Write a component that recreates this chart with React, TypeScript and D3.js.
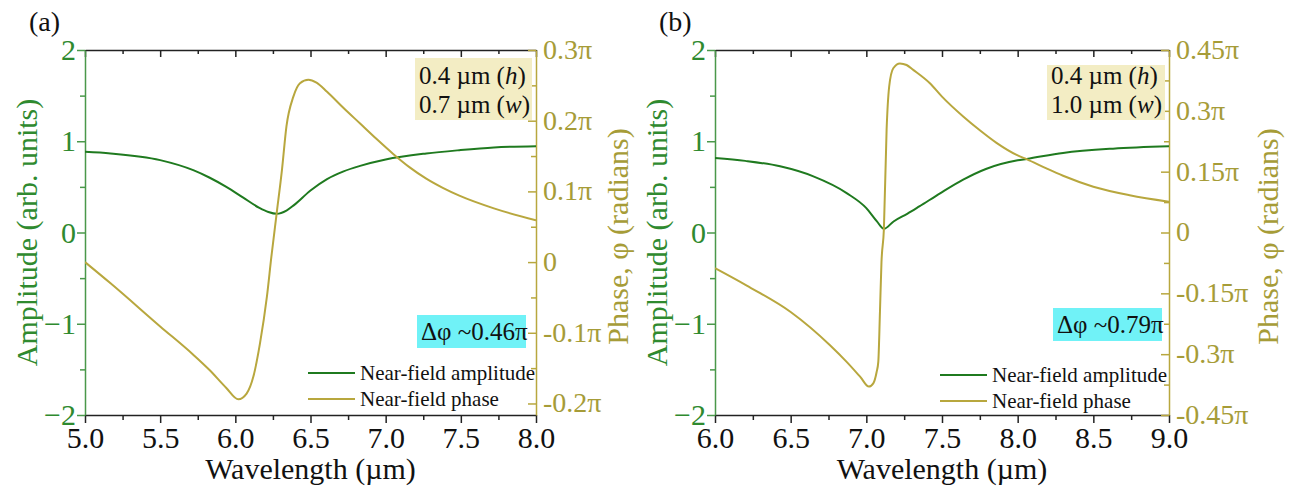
import React, { useEffect, useRef } from 'react'
import * as d3 from 'd3'

// panel (a): 0.4 µm (h), 0.7 µm (w)
const ampWlA = [5.0, 5.17, 5.5, 5.72, 5.83, 5.94, 6.05, 6.16, 6.22, 6.275, 6.34, 6.39, 6.5, 6.61, 6.72, 6.83, 7.0, 7.27, 7.49, 7.72, 8.0]
const ampA = [0.884, 0.866, 0.793, 0.683, 0.6, 0.5, 0.385, 0.27, 0.225, 0.205, 0.24, 0.3, 0.46, 0.585, 0.67, 0.73, 0.8, 0.866, 0.902, 0.932, 0.946]
const phaseWlA = [5.0, 5.17, 5.5, 5.72, 5.83, 5.94, 6.02, 6.075, 6.12, 6.164, 6.21, 6.24, 6.275, 6.31, 6.34, 6.386, 6.43, 6.486, 6.54, 6.61, 6.72, 6.83, 6.94, 7.05, 7.16, 7.27, 7.38, 7.49, 7.72, 8.0]
// phase in units of pi
const phaseA = [0.0, -0.03, -0.091, -0.131, -0.153, -0.178, -0.194, -0.186, -0.162, -0.115, -0.049, 0.008, 0.069, 0.13, 0.192, 0.234, 0.253, 0.258, 0.254, 0.241, 0.218, 0.196, 0.174, 0.153, 0.134, 0.118, 0.105, 0.094, 0.076, 0.059]

// panel (b): 0.4 µm (h), 1.0 µm (w)
const ampWlB = [6.0, 6.2, 6.43, 6.65, 6.87, 7.0, 7.07, 7.116, 7.18, 7.27, 7.35, 7.49, 7.64, 7.79, 8.0, 8.06, 8.3, 8.63, 9.0]
const ampB = [0.817, 0.785, 0.725, 0.615, 0.432, 0.267, 0.121, 0.04, 0.121, 0.205, 0.286, 0.432, 0.579, 0.696, 0.791, 0.806, 0.872, 0.919, 0.945]
const phaseWlB = [6.0, 6.21, 6.5, 6.76, 6.87, 6.96, 7.017, 7.046, 7.068, 7.079, 7.09, 7.1, 7.116, 7.134, 7.151, 7.178, 7.222, 7.266, 7.31, 7.42, 7.5, 7.64, 7.75, 7.86, 8.0, 8.058, 8.19, 8.3, 8.5, 8.74, 9.0]
const phaseB = [-0.088, -0.131, -0.196, -0.278, -0.319, -0.356, -0.38, -0.372, -0.344, -0.319, -0.196, -0.074, 0.008, 0.254, 0.36, 0.405, 0.417, 0.413, 0.401, 0.368, 0.335, 0.286, 0.252, 0.221, 0.19, 0.181, 0.158, 0.14, 0.113, 0.092, 0.076]

const ampTicks = [-2, -1, 0, 1, 2]
const wlTicksA = [5.0, 5.5, 6.0, 6.5, 7.0, 7.5, 8.0]
const wlTicksB = [6.0, 6.5, 7.0, 7.5, 8.0, 8.5, 9.0]
const phaseTicksA = [-0.2, -0.1, 0, 0.1, 0.2, 0.3]
const phaseTicksB = [-0.45, -0.3, -0.15, 0, 0.15, 0.3, 0.45]

const GREEN = '#1f7a1f'
const GREEN_TXT = '#2f8a2f'
const OLIVE = '#b8a73e'
const OLIVE_TXT = '#a69c38'
const FONT = '"Liberation Serif", "Times New Roman", serif'
const TOP = 50
const BOTTOM = 415

const midpoints = (arr: number[]) => arr.slice(1).map((v, i) => (v + arr[i]) / 2)

const drawPanel = (svg: any, p: any) => {
  const x = d3.scaleLinear().domain(p.xDomain).range([p.left, p.right])
  const yAmp = d3.scaleLinear().domain([-2, 2]).range([BOTTOM, TOP])
  const yPh = d3.scaleLinear().domain(p.phDomain).range([BOTTOM, TOP])

  const g = svg.append('g')

  // clip
  svg
    .append('clipPath')
    .attr('id', 'clip' + p.id)
    .append('rect')
    .attr('x', p.left)
    .attr('y', TOP)
    .attr('width', p.right - p.left)
    .attr('height', BOTTOM - TOP)

  const styleAxis = (sel: any, color: string, txt: string, size = 30) => {
    sel.attr('font-family', FONT).attr('font-size', size)
    sel.selectAll('path').attr('stroke', color).attr('stroke-width', 1.5)
    sel.selectAll('line').attr('stroke', color).attr('stroke-width', 1.5)
    sel.selectAll('text').attr('fill', txt)
  }

  // bottom axis
  const bottom = g
    .append('g')
    .attr('transform', `translate(0, ${BOTTOM})`)
    .call(d3.axisBottom(x).tickValues(p.xTicks).tickSize(8).tickSizeOuter(0).tickPadding(4).tickFormat(d3.format('.1f')))
  styleAxis(bottom, '#222', '#111')
  const bottomMinor = g
    .append('g')
    .attr('transform', `translate(0, ${BOTTOM})`)
    .call(d3.axisBottom(x).tickValues(midpoints(p.xTicks)).tickSize(5).tickFormat(() => ''))
  bottomMinor.select('.domain').remove()
  styleAxis(bottomMinor, '#222', '#111')

  // top axis (ticks inward, no labels)
  const top = g
    .append('g')
    .attr('transform', `translate(0, ${TOP})`)
    .call(d3.axisTop(x).tickValues(p.xTicks).tickSize(-7).tickSizeOuter(0).tickFormat(() => ''))
  styleAxis(top, '#222', '#111')
  const topMinor = g
    .append('g')
    .attr('transform', `translate(0, ${TOP})`)
    .call(d3.axisTop(x).tickValues(midpoints(p.xTicks)).tickSize(-4).tickFormat(() => ''))
  topMinor.select('.domain').remove()
  styleAxis(topMinor, '#222', '#111')

  // left axis
  const left = g
    .append('g')
    .attr('transform', `translate(${p.left}, 0)`)
    .call(
      d3
        .axisLeft(yAmp)
        .tickValues(ampTicks)
        .tickSize(8)
        .tickSizeOuter(0)
        .tickPadding(1)
        .tickFormat((d: any) => (d < 0 ? `\u2212${-d}` : `${d}`))
    )
  styleAxis(left, '#4a984a', GREEN_TXT)
  const leftMinor = g
    .append('g')
    .attr('transform', `translate(${p.left}, 0)`)
    .call(d3.axisLeft(yAmp).tickValues(midpoints(ampTicks)).tickSize(5).tickFormat(() => ''))
  leftMinor.select('.domain').remove()
  styleAxis(leftMinor, '#4a984a', GREEN_TXT)

  // right axis (ticks inward)
  const right = g
    .append('g')
    .attr('transform', `translate(${p.right}, 0)`)
    .call(
      d3
        .axisRight(yPh)
        .tickValues(p.phTicks)
        .tickSize(-8)
        .tickSizeOuter(0)
        .tickPadding(7)
        .tickFormat((d: any) => (d === 0 ? '0' : `${d}\u03c0`))
    )
  styleAxis(right, OLIVE, OLIVE_TXT, 28)
  right.selectAll('text').attr('dy', '0.3em')
  const rightMinor = g
    .append('g')
    .attr('transform', `translate(${p.right}, 0)`)
    .call(d3.axisRight(yPh).tickValues(midpoints(p.phTicks)).tickSize(-5).tickFormat(() => ''))
  rightMinor.select('.domain').remove()
  styleAxis(rightMinor, OLIVE, OLIVE_TXT)

  // amplitude line
  const ampLine = d3
    .line<number>()
    .x((d, i) => x(p.ampWl[i]))
    .y((d) => yAmp(d))
    .curve(d3.curveMonotoneX)
  g.append('path')
    .datum(p.amp)
    .attr('d', ampLine)
    .attr('fill', 'none')
    .attr('stroke', GREEN)
    .attr('stroke-width', 2)
    .attr('clip-path', `url(#clip${p.id})`)

  // phase line
  const phLine = d3
    .line<number>()
    .x((d, i) => x(p.phWl[i]))
    .y((d) => yPh(d))
    .curve(d3.curveMonotoneX)
  g.append('path')
    .datum(p.phase)
    .attr('d', phLine)
    .attr('fill', 'none')
    .attr('stroke', OLIVE)
    .attr('stroke-width', 2)
    .attr('clip-path', `url(#clip${p.id})`)

  // panel label
  g.append('text')
    .attr('x', p.left - 56)
    .attr('y', 31)
    .attr('font-size', 28)
    .attr('fill', '#111')
    .text(p.label)

  // axis titles
  g.append('text')
    .attr('transform', `translate(${p.left - 48}, ${(TOP + BOTTOM) / 2}) rotate(-90)`)
    .attr('text-anchor', 'middle')
    .attr('font-size', 30)
    .attr('fill', GREEN_TXT)
    .text('Amplitude (arb. units)')

  g.append('text')
    .attr('transform', `translate(${p.right + p.titleDx}, ${(TOP + BOTTOM) / 2 + 4}) rotate(-90)`)
    .attr('text-anchor', 'middle')
    .attr('font-size', 30)
    .attr('fill', OLIVE_TXT)
    .text('Phase, \u03c6 (radians)')

  g.append('text')
    .attr('x', (p.left + p.right) / 2)
    .attr('y', 479)
    .attr('text-anchor', 'middle')
    .attr('font-size', 30)
    .attr('fill', '#111')
    .text('Wavelength (\u00b5m)')

  // size annotation
  g.append('rect')
    .attr('x', p.right - p.boxW - 4)
    .attr('y', p.boxY)
    .attr('width', p.boxW)
    .attr('height', 120 - p.boxY)
    .attr('fill', '#f3edc4')
  p.sizes.forEach((s: string[], i: number) => {
    const t = g
      .append('text')
      .attr('x', p.right - p.boxW)
      .attr('y', 84 + i * 28.5)
      .attr('font-size', 25)
      .attr('fill', '#111')
    t.append('tspan').text(`${s[0]} \u00b5m (`)
    t.append('tspan').attr('font-style', 'italic').text(s[1])
    t.append('tspan').text(')')
  })

  // delta phi annotation
  g.append('rect')
    .attr('x', p.right - 120 + p.dpDx)
    .attr('y', p.dpY - 25)
    .attr('width', 109)
    .attr('height', 33)
    .attr('fill', '#70f2f7')
  g.append('text')
    .attr('x', p.right - 116 + p.dpDx)
    .attr('y', p.dpY)
    .attr('font-size', 25)
    .attr('fill', '#111')
    .text(`\u0394\u03c6 ~${p.dphi}\u03c0`)

  // legend
  const legend = [
    { name: 'Near-field amplitude', color: GREEN },
    { name: 'Near-field phase', color: OLIVE },
  ]
  legend.forEach((d, i) => {
    const ly = p.legY + i * 26
    g.append('line')
      .attr('x1', p.legX)
      .attr('x2', p.legX + 47)
      .attr('y1', ly)
      .attr('y2', ly)
      .attr('stroke', d.color)
      .attr('stroke-width', 2)
    g.append('text')
      .attr('x', p.legX + 52)
      .attr('y', ly + 7)
      .attr('font-size', 21)
      .attr('fill', '#111')
      .text(d.name)
  })
}

const App = () => {
  const ref = useRef<SVGSVGElement>(null)

  useEffect(() => {
    const svg = d3.select(ref.current)
    svg.selectAll('*').remove()
    drawPanel(svg, {
      id: 'a',
      label: '(a)',
      left: 85,
      right: 536,
      xDomain: [5, 8],
      xTicks: wlTicksA,
      phDomain: [-0.2163, 0.3],
      phTicks: phaseTicksA,
      ampWl: ampWlA,
      amp: ampA,
      phWl: phaseWlA,
      phase: phaseA,
      sizes: [
        ['0.4', 'h'],
        ['0.7', 'w'],
      ],
      boxW: 117,
      boxY: 58,
      titleDx: 92,
      dphi: '0.46',
      dpY: 340,
      dpDx: 1,
      legX: 308,
      legY: 373,
    })
    drawPanel(svg, {
      id: 'b',
      label: '(b)',
      left: 715,
      right: 1169,
      xDomain: [6, 9],
      xTicks: wlTicksB,
      phDomain: [-0.45, 0.45],
      phTicks: phaseTicksB,
      ampWl: ampWlB,
      amp: ampB,
      phWl: phaseWlB,
      phase: phaseB,
      sizes: [
        ['0.4', 'h'],
        ['1.0', 'w'],
      ],
      boxW: 118,
      boxY: 65,
      titleDx: 109,
      dphi: '0.79',
      dpY: 333,
      dpDx: 4,
      legX: 940,
      legY: 375,
    })
  }, [])

  return (
    <svg
      ref={ref}
      width={1293}
      height={488}
      style={{ position: 'absolute', left: 0, top: 0, background: '#fff' }}
      fontFamily={FONT}
    />
  )
}

export default App
